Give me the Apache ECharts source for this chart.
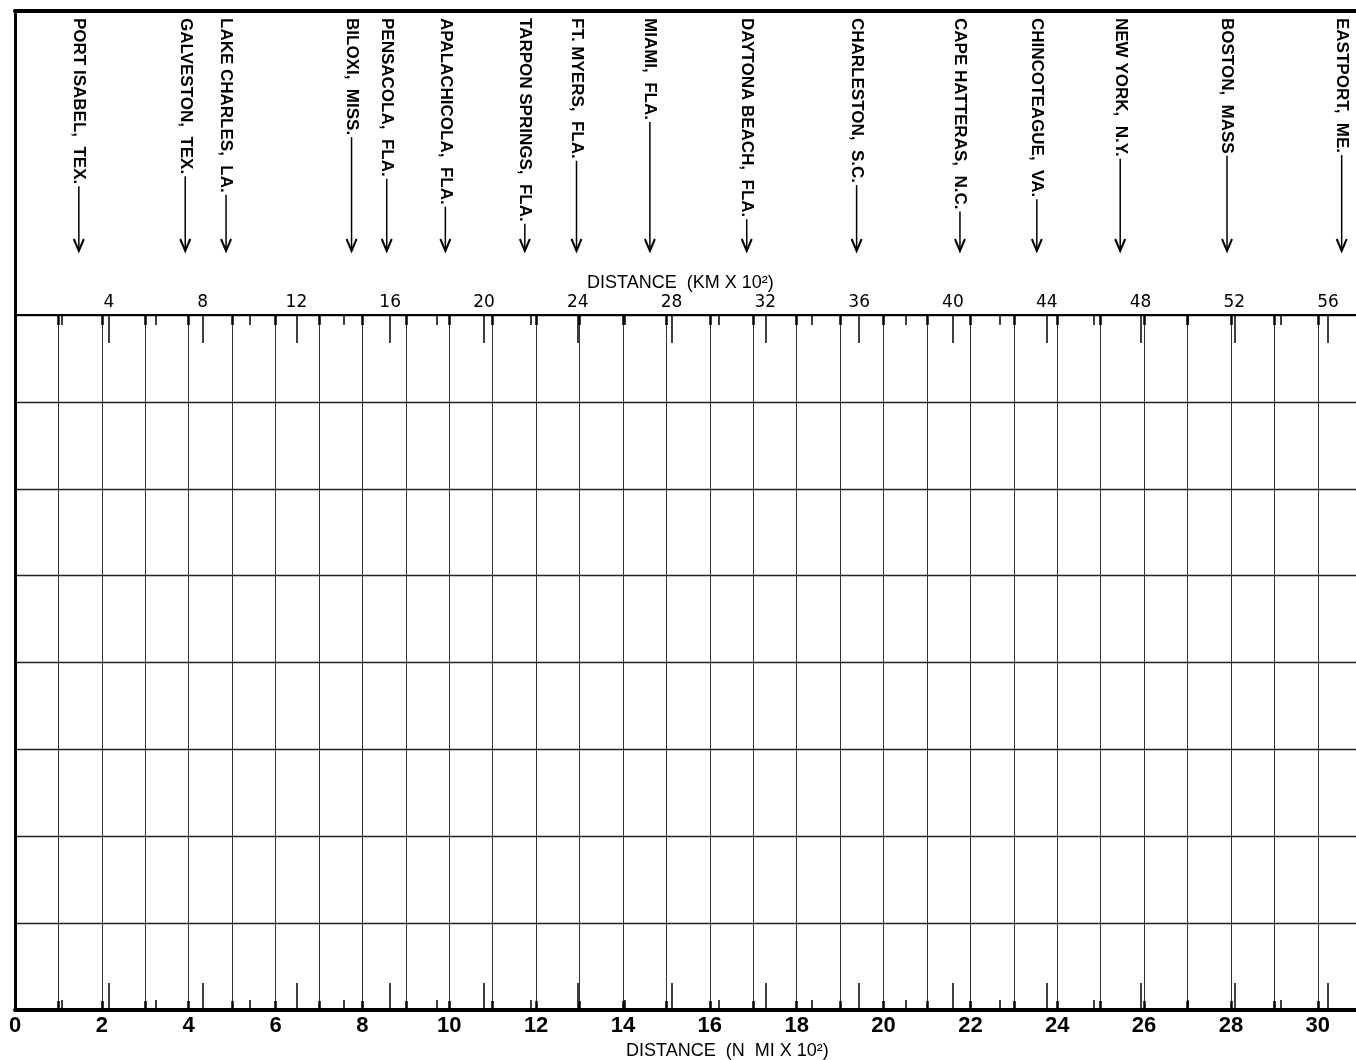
<!DOCTYPE html>
<html>
<head>
<meta charset="utf-8">
<script src="https://cdn.jsdelivr.net/npm/echarts@6/dist/echarts.min.js"></script>
<style>
html,body{margin:0;padding:0;background:#fff;}
#chart{width:1356px;height:1060px;}
</style>
</head>
<body>
<div id="chart"></div>
<script>
// ---- data ----
const stationNames = [
  'PORT ISABEL,  TEX.', 'GALVESTON,  TEX.', 'LAKE CHARLES,  LA.', 'BILOXI,  MISS.',
  'PENSACOLA,  FLA.', 'APALACHICOLA,  FLA.', 'TARPON SPRINGS,  FLA.', 'FT. MYERS,  FLA.',
  'MIAMI,  FLA.', 'DAYTONA BEACH,  FLA.', 'CHARLESTON,  S.C.', 'CAPE HATTERAS,  N.C.',
  'CHINCOTEAGUE,  VA.', 'NEW YORK,  N.Y.', 'BOSTON,  MASS', 'EASTPORT,  ME.'
];
const stationNmi = [1.47, 3.92, 4.86, 7.75, 8.56, 9.91, 11.74, 12.93, 14.62, 16.85, 19.38, 21.76, 23.53, 25.45, 27.91, 30.55];
const nmiTickLabels = [0, 2, 4, 6, 8, 10, 12, 14, 16, 18, 20, 22, 24, 26, 28, 30];
const nmiGridValues = [0, 1, 2, 3, 4, 5, 6, 7, 8, 9, 10, 11, 12, 13, 14, 15, 16, 17, 18, 19, 20, 21, 22, 23, 24, 25, 26, 27, 28, 29, 30];
const kmTickLabels = [4, 8, 12, 16, 20, 24, 28, 32, 36, 40, 44, 48, 52, 56];
const kmMinorTicks = [2, 6, 10, 14, 18, 22, 26, 30, 34, 38, 42, 46, 50, 54];
const nmiMin = 0;
const nmiMax = 30.88;
const kmPerNmi = 1.852;
const kmMax = nmiMax * kmPerNmi;
const rowMax = 8;

// ---- chart ----
const chart = echarts.init(document.getElementById('chart'), null, {renderer: 'canvas'});
const measureCtx = document.createElement('canvas').getContext('2d');
const LABEL_FONT_FAMILY = '"Liberation Sans", Arial, sans-serif';
const LABEL_FONT_SIZE = 17;

function renderStation(params, api) {
  const p = api.coord([api.value(0), 1]);
  const x = p[0];
  const y0 = p[1] + 7;
  const tipY = p[1] + 240;
  const name = stationNames[params.dataIndex];
  measureCtx.font = 'bold ' + LABEL_FONT_SIZE + 'px ' + LABEL_FONT_FAMILY;
  const w = measureCtx.measureText(name).width;
  const lineStart = y0 + w + 2;
  return {
    type: 'group',
    children: [
      {type: 'text', x: x, y: y0, rotation: -Math.PI / 2,
       style: {text: name, fontSize: LABEL_FONT_SIZE, fontFamily: LABEL_FONT_FAMILY, fontWeight: 'bold',
               fill: '#000', align: 'left', verticalAlign: 'middle'}},
      {type: 'line', shape: {x1: x, y1: lineStart, x2: x, y2: tipY},
       style: {stroke: '#000', lineWidth: 1.5}},
      {type: 'polyline', shape: {points: [[x - 5, tipY - 12], [x, tipY], [x + 5, tipY - 12]]},
       style: {stroke: '#000', lineWidth: 2, fill: null}}
    ]
  };
}

const noLine = {show: false, onZero: false};

const option = {
  backgroundColor: '#fff',
  animation: false,
  title: [
    {text: 'DISTANCE  (KM X 10²)', left: 582, top: 269,
     textStyle: {fontSize: 18, fontWeight: 'normal', fontFamily: LABEL_FONT_FAMILY, color: '#000'}},
    {text: 'DISTANCE  (N  MI X 10²)', left: 621, top: 1037,
     textStyle: {fontSize: 18, fontWeight: 'normal', fontFamily: LABEL_FONT_FAMILY, color: '#000'}}
  ],
  grid: [
    {left: 15, right: 0, top: 315, bottom: 50},
    {left: 15, right: 0, top: 11, height: 304}
  ],
  xAxis: [
    { // 0: bottom nautical miles
      gridIndex: 0, type: 'value', position: 'bottom', min: nmiMin, max: nmiMax, interval: 1,
      axisLine: {show: true, onZero: false, lineStyle: {color: '#000', width: 4}},
      axisTick: {show: true, inside: true, length: 9, customValues: nmiGridValues, lineStyle: {color: '#000', width: 2.5}},
      axisLabel: {customValues: nmiTickLabels, margin: 5, fontSize: 22, fontWeight: 'bold',
                  fontFamily: LABEL_FONT_FAMILY, color: '#000'},
      splitLine: {show: true, lineStyle: {color: '#333', width: 1}}
    },
    { // 1: bottom km major ticks
      gridIndex: 0, type: 'value', position: 'bottom', min: 0, max: kmMax,
      axisLine: noLine,
      axisTick: {show: true, inside: true, length: 27, customValues: kmTickLabels, lineStyle: {color: '#000', width: 1.5}},
      axisLabel: {show: false}, splitLine: {show: false}
    },
    { // 2: bottom km minor ticks
      gridIndex: 0, type: 'value', position: 'bottom', min: 0, max: kmMax,
      axisLine: noLine,
      axisTick: {show: true, inside: true, length: 10, customValues: kmMinorTicks, lineStyle: {color: '#000', width: 1.5}},
      axisLabel: {show: false}, splitLine: {show: false}
    },
    { // 3: top km major ticks + labels
      gridIndex: 0, type: 'value', position: 'top', min: 0, max: kmMax,
      axisLine: {show: true, onZero: false, lineStyle: {color: '#000', width: 2}},
      axisTick: {show: true, inside: true, length: 28, customValues: kmTickLabels, lineStyle: {color: '#000', width: 1.5}},
      axisLabel: {customValues: kmTickLabels, margin: 4, fontSize: 17, fontFamily: '"DejaVu Sans", sans-serif', color: '#000'},
      splitLine: {show: false}
    },
    { // 4: top km minor ticks
      gridIndex: 0, type: 'value', position: 'top', min: 0, max: kmMax,
      axisLine: noLine,
      axisTick: {show: true, inside: true, length: 10, customValues: kmMinorTicks, lineStyle: {color: '#000', width: 1.5}},
      axisLabel: {show: false}, splitLine: {show: false}
    },
    { // 5: top nautical-mile heavy ticks
      gridIndex: 0, type: 'value', position: 'top', min: nmiMin, max: nmiMax,
      axisLine: noLine,
      axisTick: {show: true, inside: true, length: 10, customValues: nmiGridValues, lineStyle: {color: '#000', width: 2.5}},
      axisLabel: {show: false}, splitLine: {show: false}
    },
    { // 6: station panel (frame top line)
      gridIndex: 1, type: 'value', position: 'top', min: nmiMin, max: nmiMax,
      axisLine: {show: true, onZero: false, lineStyle: {color: '#000', width: 4}},
      axisTick: {show: false}, axisLabel: {show: false}, splitLine: {show: false}
    }
  ],
  yAxis: [
    {
      gridIndex: 0, type: 'value', min: 0, max: rowMax, interval: 1,
      axisLine: {show: true, onZero: false, lineStyle: {color: '#000', width: 3}},
      axisTick: {show: false}, axisLabel: {show: false},
      splitLine: {show: true, lineStyle: {color: '#222', width: 1.3}}
    },
    {
      gridIndex: 1, type: 'value', min: 0, max: 1,
      axisLine: {show: true, onZero: false, lineStyle: {color: '#000', width: 3}},
      axisTick: {show: false}, axisLabel: {show: false}, splitLine: {show: false}
    }
  ],
  series: [
    {
      type: 'custom', name: 'stations', coordinateSystem: 'cartesian2d',
      xAxisIndex: 6, yAxisIndex: 1,
      data: stationNmi.map((v, i) => [v, 1, stationNames[i]]),
      renderItem: renderStation,
      clip: false
    }
  ]
};
chart.setOption(option);
</script>
</body>
</html>
